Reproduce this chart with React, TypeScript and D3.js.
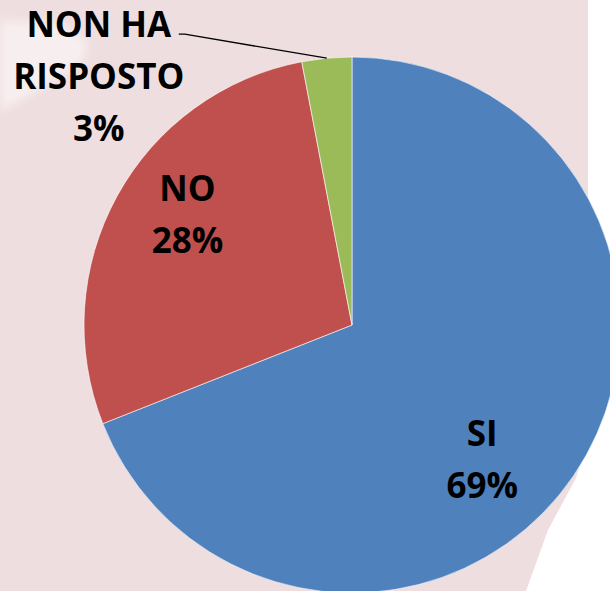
import { useEffect, useRef } from 'react'
import * as d3 from 'd3'

// answers and their share (percent)
const categories = ['SI', 'NO', 'NON HA RISPOSTO']
const values = [69, 28, 3]
const colors = ['#4F81BD', '#C0504D', '#9BBB59']
// text lines shown for each slice label
const labelLines = [['SI', '69%'], ['NO', '28%'], ['NON HA', 'RISPOSTO', '3%']]

const W = 610
const H = 591

export default function App() {
  const ref = useRef<SVGSVGElement>(null)

  useEffect(() => {
    if (!ref.current) return
    const svg = d3.select(ref.current)
    svg.selectAll('*').remove()

    // slide background
    svg.append('rect').attr('width', W).attr('height', H).attr('fill', '#EFDEDF')

    const defs = svg.append('defs')
    defs.append('filter').attr('id', 'soft')
      .append('feGaussianBlur').attr('stdDeviation', 4)

    // white bits of the slide behind the chart
    svg.append('path')
      .attr('d', 'M0,20 L60,24 L88,42 L84,60 L30,95 L0,112 Z')
      .attr('fill', '#ffffff').attr('opacity', 0.5).attr('filter', 'url(#soft)')
    svg.append('path')
      .attr('d', 'M588,0 L610,0 L610,591 L526,591 L548,530 L576,478 L588,440 Z')
      .attr('fill', '#ffffff')

    const cx = 352
    const cy = 325
    const r = 268

    const g = svg.append('g').attr('transform', `translate(${cx},${cy})`)

    const data = categories.map((c, i) => ({ name: c, value: values[i], color: colors[i], lines: labelLines[i] }))
    type D = typeof data[number]

    const pie = d3.pie<D>().value(d => d.value).sort(null)
    const arcs = pie(data)
    const arc = d3.arc<d3.PieArcDatum<D>>().innerRadius(0).outerRadius(r)

    g.selectAll('path.slice')
      .data(arcs)
      .join('path')
      .attr('class', 'slice')
      .attr('d', arc)
      .attr('fill', d => d.data.color)
      .attr('stroke', '#ffffff')
      .attr('stroke-width', 0.6)

    const fontSize = 35
    const lineH = 52

    const drawLabel = (lines: string[], x: number, y: number) => {
      const t = g.append('text')
        .attr('text-anchor', 'middle')
        .attr('font-family', 'Open Sans, sans-serif')
        .attr('font-weight', 700)
        .attr('font-size', fontSize)
        .attr('fill', '#000')
      const top = y - ((lines.length - 1) * lineH) / 2
      lines.forEach((l, i) => {
        t.append('tspan').attr('x', x).attr('y', top + i * lineH).attr('dy', '0.35em').text(l)
      })
    }

    arcs.forEach((a, i) => {
      const mid = (a.startAngle + a.endAngle) / 2
      if (a.data.value >= 10) {
        // inside labels, nudged the way the office chart places them
        const ang = i === 0 ? mid + 0.207 : mid + 0.089
        const rr = r * (i === 0 ? 0.70 : 0.74)
        drawLabel(a.data.lines, Math.sin(ang) * rr, -Math.cos(ang) * rr)
      } else {
        // small slice: label outside with leader line
        const ex = Math.sin(mid) * r
        const ey = -Math.cos(mid) * r
        const lx = ex - 142
        const ly = ey - 24
        g.append('polyline')
          .attr('points', `${ex},${ey} ${lx},${ly} ${lx - 6},${ly}`)
          .attr('fill', 'none')
          .attr('stroke', '#000')
          .attr('stroke-width', 1.3)
        drawLabel(a.data.lines, lx - 86, ly + 43)
      }
    })
  }, [])

  return (
    <svg
      ref={ref}
      width={W}
      height={H}
      style={{ position: 'fixed', left: 0, top: 0, display: 'block' }}
    />
  )
}
